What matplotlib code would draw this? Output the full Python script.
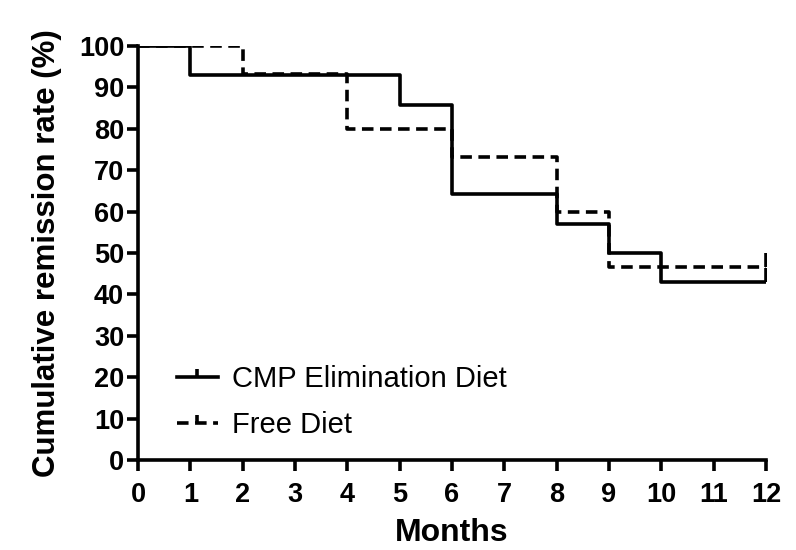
import matplotlib.pyplot as plt
from matplotlib.lines import Line2D

plt.rcParams["font.family"] = ["Liberation Sans", "DejaVu Sans"]

# Kaplan-Meier style remission curves (step after each event)
cmp_months = [0, 1, 5, 6, 8, 9, 10, 12]
cmp_rate = [100, 92.9, 85.7, 64.3, 57.1, 50.0, 42.9, 42.9]

free_months = [0, 2, 4, 6, 8, 9, 12]
free_rate = [100, 93.3, 80.0, 73.3, 60.0, 46.7, 46.7]

x_ticks = list(range(0, 13))
y_ticks = list(range(0, 101, 10))

fig = plt.figure(figsize=(7.96, 5.5), dpi=100)
ax = fig.add_axes([0.1734, 0.1636, 0.789, 0.7528])

lw = 2.6
ax.step(cmp_months, cmp_rate, where="post", color="black", linewidth=lw,
        solid_capstyle="butt")
ax.step(free_months, free_rate, where="post", color="black", linewidth=lw,
        linestyle=(0, (3.2, 1.8)), dash_capstyle="butt")

# censor ticks at the end of follow-up
ax.plot([cmp_months[-1]], [cmp_rate[-1]], marker=2, color="black",
        markersize=10, markeredgewidth=lw, linestyle="none")
ax.plot([free_months[-1]], [free_rate[-1]], marker=2, color="black",
        markersize=10, markeredgewidth=lw, linestyle="none")

ax.set_xlim(0, 12)
ax.set_ylim(0, 100)
ax.set_xticks(x_ticks)
ax.set_yticks(y_ticks)
ax.tick_params(axis="both", direction="out", length=8, width=2.6,
               labelsize=19.5)
ax.tick_params(axis="x", pad=8)
ax.tick_params(axis="y", pad=2)
for lbl in ax.get_xticklabels() + ax.get_yticklabels():
    lbl.set_fontweight("bold")

for side in ["top", "right"]:
    ax.spines[side].set_visible(False)
for side in ["left", "bottom"]:
    ax.spines[side].set_linewidth(2.6)

ax.set_xlabel("Months", fontsize=23, fontweight="bold", labelpad=7)
ax.set_ylabel("Cumulative remission rate (%)", fontsize=22.5,
              fontweight="bold", labelpad=12)

handles = [
    Line2D([], [], color="black", linewidth=lw, marker=2, markersize=6,
           markeredgewidth=lw),
    Line2D([], [], color="black", linewidth=lw, linestyle=(0, (3.2, 1.8)),
           marker=2, markersize=6, markeredgewidth=lw),
]
ax.legend(handles, ["CMP Elimination Diet", "Free Diet"], loc="lower left",
          bbox_to_anchor=(0.02, -0.012), frameon=False, fontsize=21,
          handlelength=1.4, handletextpad=0.5, labelspacing=0.6,
          numpoints=1)

fig.savefig("out.png", dpi=100)
